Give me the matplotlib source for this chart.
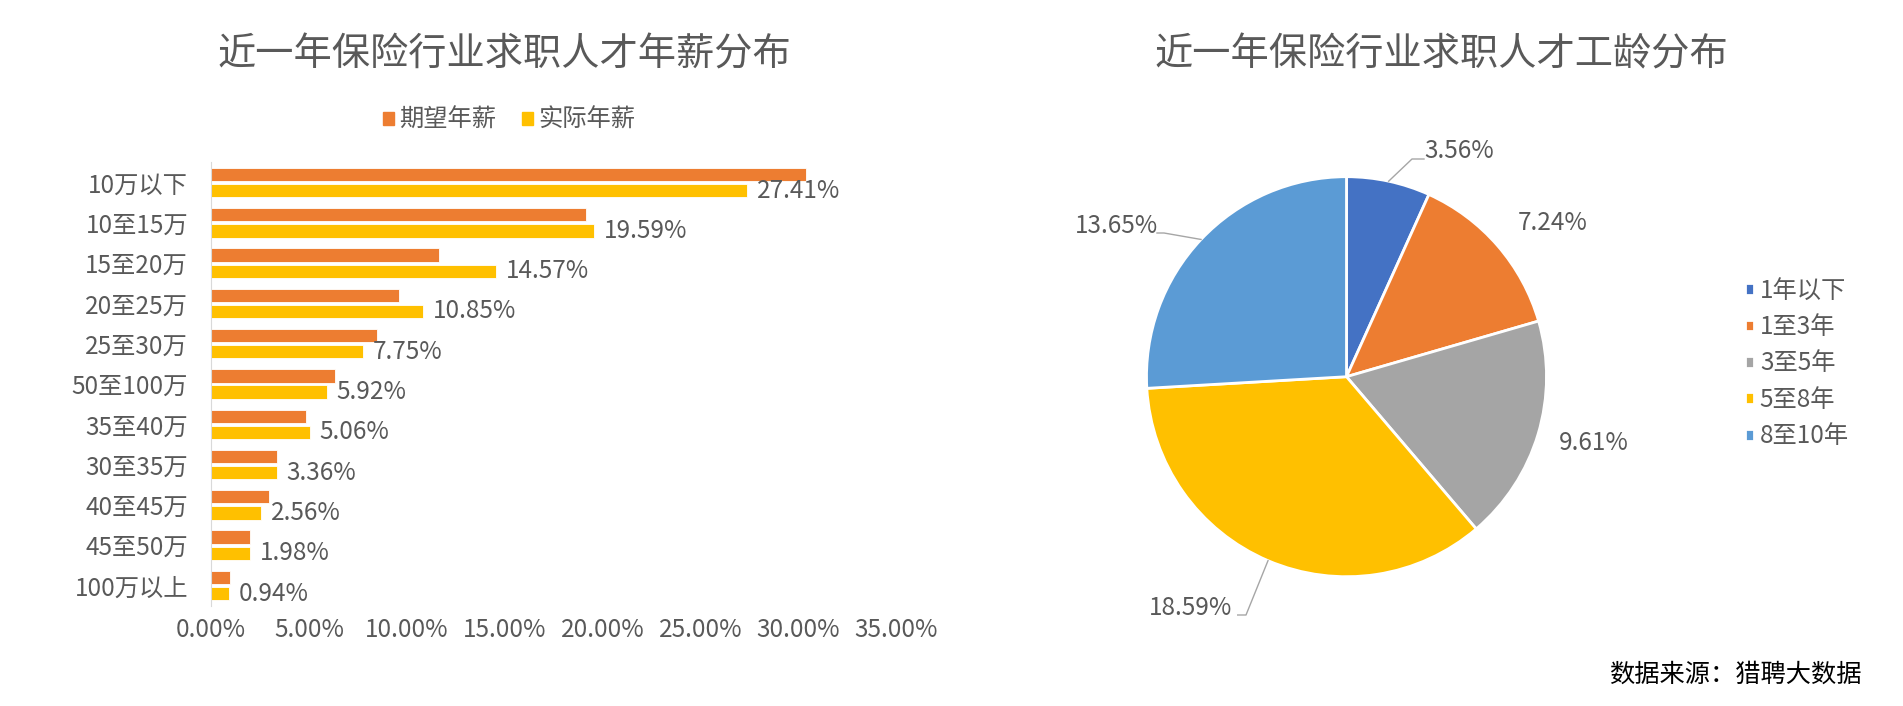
import numpy as np
import matplotlib
matplotlib.use('Agg')
import matplotlib.pyplot as plt
from matplotlib.patches import Patch
from matplotlib.ticker import PercentFormatter

plt.rcParams['font.family'] = ['Noto Sans CJK SC', 'DejaVu Sans']

# 年薪分布 (%)
salary_cats = ['10万以下', '10至15万', '15至20万', '20至25万', '25至30万', '50至100万',
               '35至40万', '30至35万', '40至45万', '45至50万', '100万以上']
expected = [30.40, 19.17, 11.67, 9.59, 8.47, 6.36, 4.84, 3.38, 2.97, 2.01, 0.96]
actual = [27.41, 19.59, 14.57, 10.85, 7.75, 5.92, 5.06, 3.36, 2.56, 1.98, 0.94]
salary_series = ['期望年薪', '实际年薪']

# 工龄分布 (%)
work_cats = ['1年以下', '1至3年', '3至5年', '5至8年', '8至10年']
work_vals = [3.56, 7.24, 9.61, 18.59, 13.65]

grey = '#595959'
c_orange = '#ED7D31'
c_yellow = '#FFC000'
pie_colors = ['#4472C4', '#ED7D31', '#A5A5A5', '#FFC000', '#5B9BD5']
fs = 17.5

W, H = 1903, 706
fig = plt.figure(figsize=(W / 100, H / 100), dpi=100)

# ---- 左: 条形图 ----
ax = fig.add_axes([211 / W, 100.4 / H, 685 / W, 443.2 / H])
y = np.arange(len(salary_cats))
ax.barh(y - 0.2, expected, height=0.33, color=c_orange, edgecolor='white', linewidth=0.6)
ax.barh(y + 0.2, actual, height=0.33, color=c_yellow, edgecolor='white', linewidth=0.6)
for yi, v in zip(y, actual):
    ax.annotate(f'{v:.2f}%', xy=(v, yi + 0.2), xytext=(7, 0), textcoords='offset points',
                ha='left', va='center', fontsize=fs, color=grey)

ax.set_xlim(0, 35)
ax.set_ylim(len(salary_cats) - 0.5, -0.5)
ax.set_xticks(np.arange(0, 36, 5))
ax.xaxis.set_major_formatter(PercentFormatter(xmax=100, decimals=2))
ax.set_yticks(y)
ax.set_yticklabels(salary_cats)
ax.tick_params(axis='both', length=0, labelsize=fs, colors=grey)
ax.tick_params(axis='y', pad=16.5)
ax.tick_params(axis='x', pad=8)
for s in ['top', 'right', 'bottom']:
    ax.spines[s].set_visible(False)
ax.spines['left'].set_color('#D9D9D9')

fig.text(504 / W, 1 - 55 / H, '近一年保险行业求职人才年薪分布', ha='center', va='center',
         fontsize=27.5, color=grey)
fig.legend([Patch(color=c_orange), Patch(color=c_yellow)], salary_series,
           loc='center', bbox_to_anchor=(509 / W, 1 - 120 / H), ncol=2, frameon=False,
           fontsize=fs, labelcolor=grey, handlelength=0.45, handleheight=0.45,
           handletextpad=0.2, columnspacing=1.1, borderpad=0, borderaxespad=0)

# ---- 右: 饼图 ----
cx, cy, r = 1346.5, 376.7, 200
ax2 = fig.add_axes([(cx - 1.6 * r) / W, (H - cy - 1.6 * r) / H, 3.2 * r / W, 3.2 * r / H])
wedges, _ = ax2.pie(work_vals, colors=pie_colors, startangle=90, counterclock=False,
                    radius=1, wedgeprops=dict(edgecolor='white', linewidth=2))
ax2.set_xlim(-1.6, 1.6)
ax2.set_ylim(-1.6, 1.6)
ax2.axis('off')

# 标签位置 (半径单位) 和 引导线拐点
label_pos = [(0.39, 1.126, 'left'), (1.03, 0.77, 'center'), (1.2375, -0.334, 'center'),
             (-0.5725, -1.155, 'right'), (-0.94, 0.753, 'right')]
leaders = {0: [(0.3275, 1.0885), (0.3875, 1.0885)],
           3: [(-0.5025, -1.1915), (-0.544, -1.1915)],
           4: [(-0.9125, 0.7185), (-0.9475, 0.7185)]}

for i, (w, v) in enumerate(zip(wedges, work_vals)):
    lx, ly, ha = label_pos[i]
    ax2.text(lx, ly, f'{v:.2f}%', ha=ha, va='center', fontsize=fs, color=grey)
    if i in leaders:
        ang = np.deg2rad((w.theta1 + w.theta2) / 2)
        pts = [(np.cos(ang), np.sin(ang))] + leaders[i]
        xs, ys = zip(*pts)
        ax2.plot(xs, ys, color='#A6A6A6', lw=1)

fig.text(1441 / W, 1 - 55 / H, '近一年保险行业求职人才工龄分布', ha='center', va='center',
         fontsize=27.5, color=grey)
fig.legend(wedges, work_cats, loc='center left', bbox_to_anchor=(1745 / W, 1 - 363.5 / H),
           frameon=False, fontsize=fs, labelcolor=grey, handlelength=0.36, handleheight=0.36,
           handletextpad=0.25, labelspacing=0.43, borderpad=0, borderaxespad=0)

fig.text(1862 / W, 1 - 675 / H, '数据来源：猎聘大数据', ha='right', va='center',
         fontsize=18.2, color='black')

fig.savefig('out.png', dpi=100)
